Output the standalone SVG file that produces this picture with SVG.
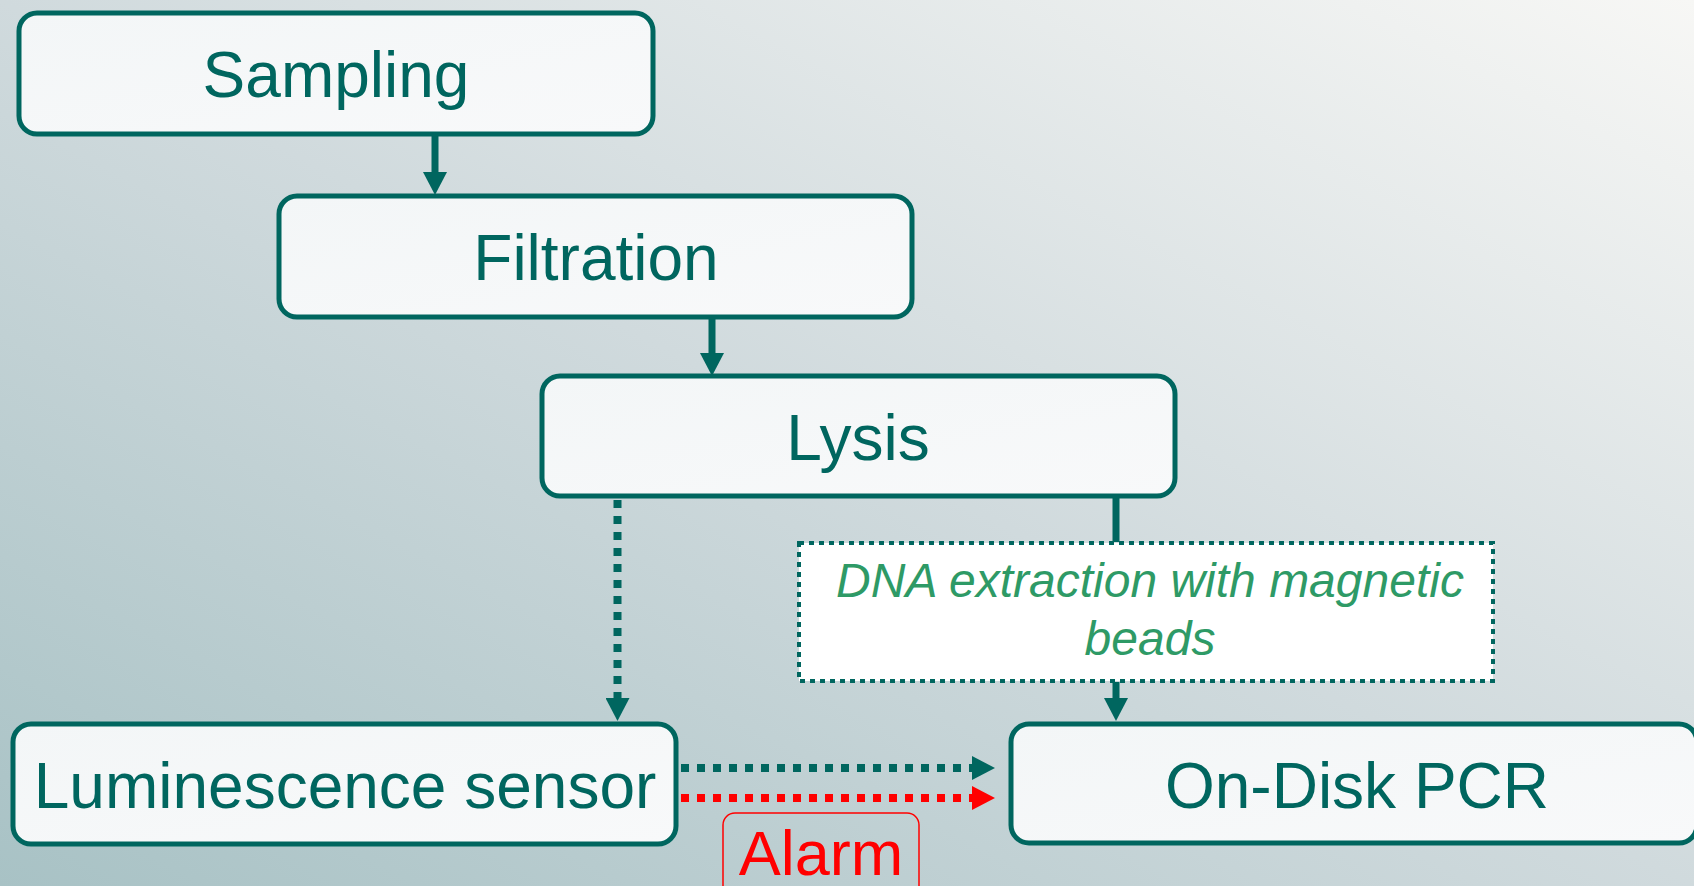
<svg xmlns="http://www.w3.org/2000/svg" width="1694" height="886" viewBox="0 0 1694 886">
<defs>
<linearGradient id="bg" x1="0" y1="1" x2="1" y2="0">
<stop offset="0" stop-color="#a8c2c5"/>
<stop offset="0.5" stop-color="#d0dadd"/>
<stop offset="1" stop-color="#f7f7f5"/>
</linearGradient>
<linearGradient id="boxfill" x1="0" y1="0" x2="1" y2="1">
<stop offset="0" stop-color="#f3f6f7"/>
<stop offset="1" stop-color="#f8f9fa"/>
</linearGradient>
<marker id="ah" markerUnits="userSpaceOnUse" markerWidth="24" markerHeight="24" refX="0" refY="12" orient="auto" viewBox="0 0 24 24">
<path d="M0,0 L23,12 L0,24 z" fill="#00665f"/>
</marker>
<marker id="ahr" markerUnits="userSpaceOnUse" markerWidth="24" markerHeight="24" refX="0" refY="12" orient="auto" viewBox="0 0 24 24">
<path d="M0,0 L23,12 L0,24 z" fill="#ff0000"/>
</marker>
</defs>
<style>
.box{fill:url(#boxfill);stroke:#00665f;stroke-width:5}
.lbl{font-family:"Liberation Sans",Arial,sans-serif;font-size:64px;fill:#00665f;text-anchor:middle}
.solid{stroke:#00665f;stroke-width:7;fill:none}
.dot{stroke:#00665f;stroke-width:8;stroke-dasharray:8 8;fill:none}
.dotr{stroke:#ff0000;stroke-width:8;stroke-dasharray:8 8;fill:none}
.note{font-family:"Liberation Sans",Arial,sans-serif;font-size:48px;font-style:italic;fill:#2e9a66;text-anchor:middle}
</style>
<rect x="0" y="0" width="1694" height="886" fill="url(#bg)"/>

<g id="connectors">
<line class="solid" x1="435" y1="134" x2="435" y2="172" marker-end="url(#ah)"/>
<line class="solid" x1="712" y1="318" x2="712" y2="353" marker-end="url(#ah)"/>
<line class="dot" x1="617.5" y1="500" x2="617.5" y2="698" marker-end="url(#ah)"/>
<line class="solid" x1="1116" y1="497" x2="1116" y2="542"/>
<line class="solid" x1="1116" y1="682" x2="1116" y2="698" marker-end="url(#ah)"/>
<line class="dot" x1="681" y1="768" x2="972" y2="768" marker-end="url(#ah)"/>
<line class="dotr" x1="681" y1="798" x2="972" y2="798" marker-end="url(#ahr)"/>
</g>

<g id="sampling">
<rect class="box" x="19" y="13" width="634" height="121" rx="18"/>
<text class="lbl" x="336" y="97">Sampling</text>
</g>
<g id="filtration">
<rect class="box" x="279" y="196" width="633" height="121" rx="18"/>
<text class="lbl" x="596" y="280">Filtration</text>
</g>
<g id="lysis">
<rect class="box" x="542" y="376" width="633" height="120" rx="18"/>
<text class="lbl" x="858" y="460">Lysis</text>
</g>
<g id="dna">
<rect x="799" y="543" width="694" height="138" fill="#ffffff" stroke="#00665f" stroke-width="4" stroke-dasharray="5 5"/>
<text class="note" x="1150" y="597">DNA extraction with magnetic</text>
<text class="note" x="1150" y="655">beads</text>
</g>
<g id="luminescence">
<rect class="box" x="13" y="724" width="663" height="120" rx="18"/>
<text class="lbl" x="345" y="808">Luminescence sensor</text>
</g>
<g id="pcr">
<rect class="box" x="1011" y="724" width="686" height="119" rx="18"/>
<text class="lbl" x="1357" y="808">On-Disk PCR</text>
</g>
<g id="alarm">
<rect x="723" y="813" width="196" height="90" rx="12" fill="none" stroke="#ff0000" stroke-width="1.5"/>
<text x="821" y="875" font-family="Liberation Sans, Arial, sans-serif" font-size="63" fill="#ff0000" text-anchor="middle">Alarm</text>
</g>
</svg>
